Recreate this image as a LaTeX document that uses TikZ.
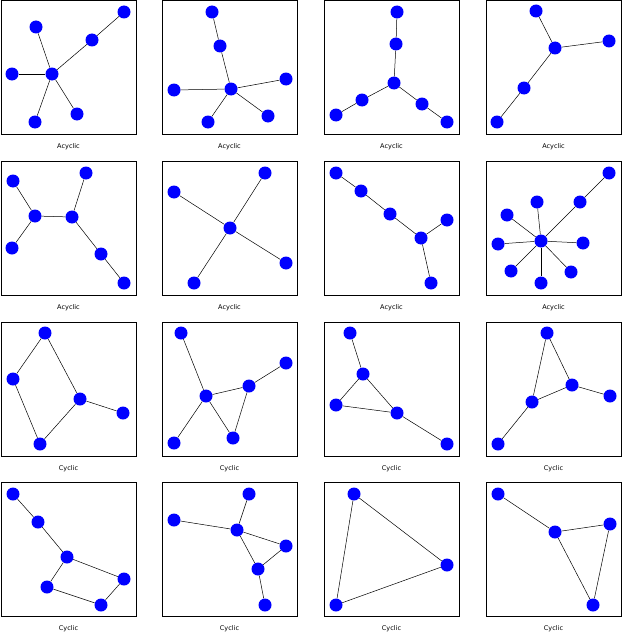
\documentclass[tikz,border=0pt]{standalone}
\usepackage{fontspec}
\setmainfont{DejaVu Sans}
\begin{document}
\begin{tikzpicture}[x=1pt,y=-1pt,
 v/.style={circle,fill=blue,inner sep=0pt,minimum size=13pt},
 e/.style={black,line width=0.5pt},
 box/.style={draw=black,line width=0.8pt},
 lab/.style={font=\fontsize{6.5}{7}\selectfont}]
\useasboundingbox (0,0) rectangle (622,634);
% boxes and labels
\foreach \c/\x in {1/1,2/162,3/324,4/486}{
 \foreach \r/\y/\t in {1/0/Acyclic,2/161/Acyclic,3/322/Cyclic,4/482/Cyclic}{
  \node[box,minimum width=135pt,minimum height=134pt,inner sep=0pt,anchor=north west] (b\r\c) at (\x,\y) {};
  \node[lab] (l\r\c) at (\x+67.5,\y+147) {\t};
 }}
\def\G#1#2{\foreach \n/\p in {#1}{\node[v] (\n) at \p {};}
 \foreach \a/\b in {#2}{\draw[e] (\a) -- (\b);}}
% row 1
\G{a0/{(52,74)},a1/{(36,27)},a2/{(12,74)},a3/{(35,122)},a4/{(77,114)},a5/{(92,40)},a6/{(124,12)}}{a0/a1,a0/a2,a0/a3,a0/a4,a0/a5,a5/a6}
\G{b0/{(231,89)},b1/{(212,12)},b2/{(220,46)},b3/{(174,90)},b4/{(286,79)},b5/{(208,122)},b6/{(268,116)}}{b1/b2,b2/b0,b0/b3,b0/b4,b0/b5,b0/b6}
\G{c1/{(397,12)},c2/{(396,44)},c0/{(394,83)},c3/{(362,100)},c4/{(336,115)},c5/{(422,104)},c6/{(447,122)}}{c1/c2,c2/c0,c0/c3,c3/c4,c0/c5,c5/c6}
\G{d1/{(536,11)},d0/{(555,48)},d2/{(609,41)},d3/{(524,88)},d4/{(497,122)}}{d1/d0,d0/d2,d0/d3,d3/d4}
% row 2
\G{e1/{(13,181)},e2/{(35,216)},e3/{(12,248)},e4/{(72,217)},e5/{(86,173)},e6/{(101,254)},e7/{(124,283)}}{e1/e2,e2/e3,e2/e4,e4/e5,e4/e6,e6/e7}
\G{f0/{(230,228)},f1/{(174,192)},f2/{(265,173)},f3/{(194,283)},f4/{(286,263)}}{f0/f1,f0/f2,f0/f3,f0/f4}
\G{g1/{(336,173)},g2/{(361,191)},g3/{(390,214)},g4/{(421,238)},g5/{(447,220)},g6/{(431,283)}}{g1/g2,g2/g3,g3/g4,g4/g5,g4/g6}
\G{h0/{(541,241)},h1/{(609,173)},h2/{(580,202)},h3/{(537,202)},h4/{(507,215)},h5/{(498,244)},h6/{(583,243)},h7/{(511,271)},h8/{(541,283)},h9/{(571,272)}}{h0/h2,h2/h1,h0/h3,h0/h4,h0/h5,h0/h6,h0/h7,h0/h8,h0/h9}
% row 3
\G{i1/{(45,333)},i2/{(13,379)},i3/{(40,444)},i4/{(80,399)},i5/{(123,413)}}{i1/i2,i2/i3,i3/i4,i4/i1,i4/i5}
\G{j1/{(181,333)},j2/{(206,396)},j3/{(174,443)},j4/{(233,438)},j5/{(249,386)},j6/{(286,363)}}{j1/j2,j2/j3,j2/j4,j2/j5,j4/j5,j5/j6}
\G{k1/{(350,333)},k2/{(363,374)},k3/{(336,405)},k4/{(397,413)},k5/{(447,444)}}{k1/k2,k2/k3,k2/k4,k3/k4,k4/k5}
\G{m1/{(547,333)},m2/{(572,385)},m3/{(610,396)},m4/{(532,402)},m5/{(498,444)}}{m1/m2,m1/m4,m2/m4,m2/m3,m4/m5}
% row 4
\G{n1/{(13,494)},n2/{(38,522)},n3/{(67,557)},n4/{(47,587)},n5/{(101,605)},n6/{(124,579)}}{n1/n2,n2/n3,n3/n6,n3/n4,n4/n5,n5/n6}
\G{o1/{(174,520)},o2/{(249,494)},o3/{(237,530)},o4/{(286,546)},o5/{(258,569)},o6/{(265,605)}}{o1/o3,o2/o3,o3/o4,o3/o5,o4/o5,o5/o6}
\G{p1/{(354,494)},p2/{(447,565)},p3/{(336,605)}}{p1/p2,p2/p3,p3/p1}
\G{q1/{(498,494)},q2/{(555,532)},q3/{(610,524)},q4/{(593,605)}}{q1/q2,q2/q3,q2/q4,q3/q4}
\end{tikzpicture}
\end{document}
